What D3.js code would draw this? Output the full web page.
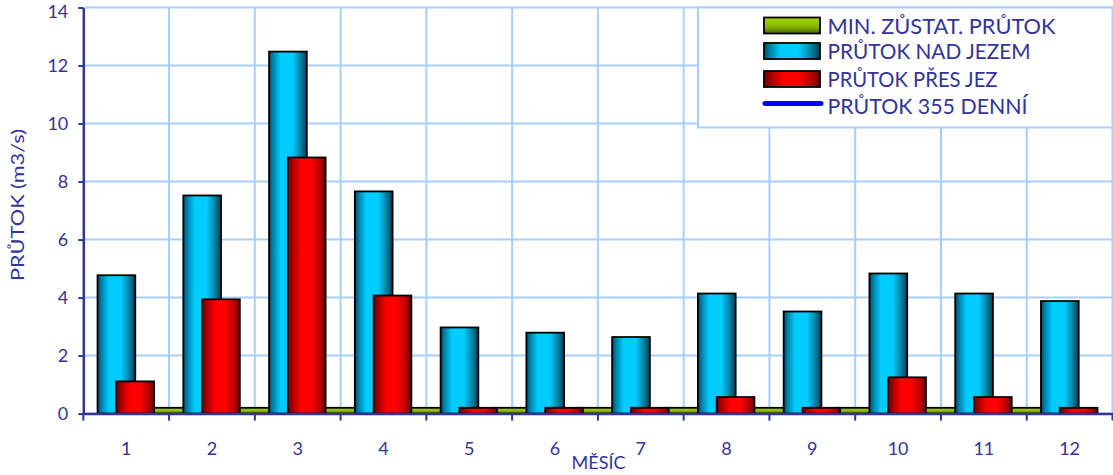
<!DOCTYPE html>
<html>
<head>
<meta charset="utf-8">
<script src="https://cdn.jsdelivr.net/npm/d3@7"></script>
<style>
  body { margin: 0; background: #fff; }
  text { font-family: Lato, "Open Sans", sans-serif; fill: #333399; }
</style>
</head>
<body>
<div id="chart"></div>
<script>
const width = 1113;
const height = 475;

// data (m3/s)
const months = ["1","2","3","4","5","6","7","8","9","10","11","12"];
const flowAbove = [4.77, 7.52, 12.48, 7.66, 2.97, 2.79, 2.64, 4.14, 3.52, 4.83, 4.14, 3.88];
const flowOver = [1.11, 3.94, 8.83, 4.07, 0.2, 0.2, 0.2, 0.57, 0.2, 1.25, 0.57, 0.2];
const minFlow = [0.2, 0.2, 0.2, 0.2, 0.2, 0.2, 0.2, 0.2, 0.2, 0.2, 0.2, 0.2];
const yTicks = [0, 2, 4, 6, 8, 10, 12, 14];
const legendNames = ["MIN. ZŮSTAT. PRŮTOK", "PRŮTOK NAD JEZEM", "PRŮTOK PŘES JEZ", "PRŮTOK 355 DENNÍ"];

const axisColor = "#333399";
const gridColor = "#a6cfff";

const x = d3.scaleBand().domain(months).range([83.3, 1112.5]).padding(0);
const y = d3.scaleLinear().domain([0, 14]).range([413.6, 7.5]);
const bw = x.bandwidth();
const barW = bw * 0.44;

const svg = d3.select("#chart").append("svg")
  .attr("width", width)
  .attr("height", height);

const defs = svg.append("defs");
function gradient(id, stops, vertical) {
  const g = defs.append("linearGradient").attr("id", id)
    .attr("x1", 0).attr("y1", 0)
    .attr("x2", vertical ? 0 : 1).attr("y2", vertical ? 1 : 0);
  stops.forEach(s => g.append("stop").attr("offset", s[0]).attr("stop-color", s[1]));
}
gradient("gBlue", [[0, "#004a66"], [0.12, "#0088b0"], [0.3, "#00ccff"], [0.62, "#00ccff"], [0.8, "#0090b5"], [1, "#003f55"]]);
gradient("gRed", [[0, "#660000"], [0.18, "#c00000"], [0.35, "#ff0000"], [0.62, "#ff0000"], [0.85, "#b80000"], [1, "#660000"]]);
gradient("gGreen", [[0, "#a4d400"], [0.55, "#88b800"], [1, "#4a6a00"]], true);

// grid
svg.append("g").selectAll("line")
  .data(yTicks)
  .enter()
  .append("line")
  .attr("x1", 83.3).attr("x2", 1112.5)
  .attr("y1", d => y(d)).attr("y2", d => y(d))
  .attr("stroke", gridColor).attr("stroke-width", 2);

svg.append("g").selectAll("line")
  .data(months)
  .enter()
  .append("line")
  .attr("x1", d => x(d) + bw).attr("x2", d => x(d) + bw)
  .attr("y1", y(14)).attr("y2", y(0))
  .attr("stroke", gridColor).attr("stroke-width", 2);

// green min flow bars sit between the months, behind the others
svg.append("g").selectAll("rect")
  .data(months.slice(0, months.length - 1))
  .enter()
  .append("rect")
  .attr("x", d => x(d) + bw - barW / 2)
  .attr("y", (d, i) => y(minFlow[i]))
  .attr("width", barW)
  .attr("height", (d, i) => y(0) - y(minFlow[i]))
  .attr("fill", "url(#gGreen)")
  .attr("stroke", "#000").attr("stroke-width", 1.8);

svg.append("g").selectAll("rect")
  .data(months)
  .enter()
  .append("rect")
  .attr("x", d => x(d) + bw * 0.166)
  .attr("y", (d, i) => y(flowAbove[i]))
  .attr("width", barW)
  .attr("height", (d, i) => y(0) - y(flowAbove[i]))
  .attr("fill", "url(#gBlue)")
  .attr("stroke", "#000").attr("stroke-width", 1.8);

svg.append("g").selectAll("rect")
  .data(months)
  .enter()
  .append("rect")
  .attr("x", d => x(d) + bw * 0.385)
  .attr("y", (d, i) => y(flowOver[i]))
  .attr("width", barW)
  .attr("height", (d, i) => y(0) - y(flowOver[i]))
  .attr("fill", "url(#gRed)")
  .attr("stroke", "#000").attr("stroke-width", 1.8);

// axes
const yAxis = svg.append("g")
  .attr("transform", "translate(83.3,0)")
  .call(d3.axisLeft(y).tickValues(yTicks).tickSize(5).tickPadding(10).tickSizeOuter(0));
yAxis.selectAll("line").attr("stroke", axisColor).attr("stroke-width", 2);
yAxis.select(".domain").attr("stroke", axisColor).attr("stroke-width", 2.5);
yAxis.selectAll("text").attr("font-size", "18px").attr("font-family", "Lato").attr("fill", axisColor);
// top label is pushed down so it stays inside the picture
yAxis.selectAll("text").filter(d => d === 14).attr("y", 4);

const xAxis = svg.append("g")
  .attr("transform", "translate(0," + y(0) + ")")
  .call(d3.axisBottom(x).tickSize(0).tickPadding(29).tickSizeOuter(0));
xAxis.select(".domain").attr("stroke", axisColor).attr("stroke-width", 2.5);
xAxis.selectAll("text").attr("font-size", "18px").attr("font-family", "Lato").attr("fill", axisColor);

xAxis.append("g").selectAll("line")
  .data([x.range()[0]].concat(months.map(d => x(d) + bw)))
  .enter()
  .append("line")
  .attr("x1", d => d).attr("x2", d => d)
  .attr("y1", 0).attr("y2", 7)
  .attr("stroke", axisColor).attr("stroke-width", 2);

svg.append("text")
  .attr("x", 598.5).attr("y", 469)
  .attr("text-anchor", "middle")
  .attr("font-size", "18px")
  .attr("textLength", 54)
  .attr("lengthAdjust", "spacingAndGlyphs")
  .text("MĚSÍC");

svg.append("text")
  .attr("transform", "translate(24,205) rotate(-90)")
  .attr("text-anchor", "middle")
  .attr("font-size", "18px")
  .attr("textLength", 152)
  .attr("lengthAdjust", "spacingAndGlyphs")
  .text("PRŮTOK (m3/s)");

// legend
const legend = svg.append("g");
legend.append("rect")
  .attr("x", 698).attr("y", 7.5)
  .attr("width", 1112.5 - 698).attr("height", 120)
  .attr("fill", "#fff")
  .attr("stroke", gridColor).attr("stroke-width", 2);

const swatchFills = ["url(#gGreen)", "url(#gBlue)", "url(#gRed)"];
const swatchY = [17.5, 43, 71];
legend.selectAll(".sw")
  .data(swatchFills)
  .enter()
  .append("rect")
  .attr("class", "sw")
  .attr("x", 764).attr("y", (d, i) => swatchY[i])
  .attr("width", 56).attr("height", 16)
  .attr("fill", d => d)
  .attr("stroke", "#000").attr("stroke-width", 1.8);

legend.append("line")
  .attr("x1", 765).attr("x2", 821)
  .attr("y1", 103.5).attr("y2", 103.5)
  .attr("stroke", "#0000ff").attr("stroke-width", 5)
  .attr("stroke-linecap", "round");

const textBase = [33.5, 58.5, 86.5, 113.5];
const textWidths = [228, 203, 170, 200];
legend.selectAll(".lt")
  .data(legendNames)
  .enter()
  .append("text")
  .attr("class", "lt")
  .attr("x", 827.5)
  .attr("y", (d, i) => textBase[i])
  .attr("font-size", "21px")
  .attr("textLength", (d, i) => textWidths[i])
  .attr("lengthAdjust", "spacingAndGlyphs")
  .text(d => d);
</script>
</body>
</html>
